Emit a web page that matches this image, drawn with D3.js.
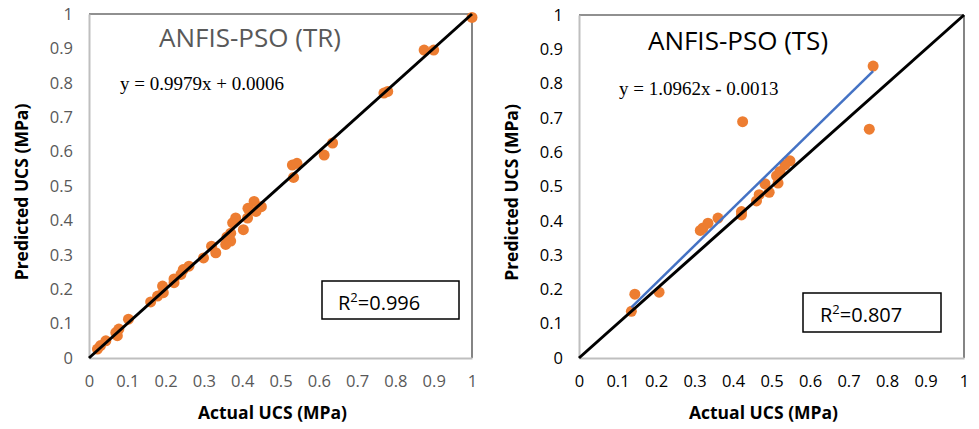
<!DOCTYPE html>
<html lang="en">
<head>
<meta charset="UTF-8">
<title>ANFIS-PSO predicted vs actual UCS</title>
<script src="https://d3js.org/d3.v7.min.js"></script>
<style>
  body { margin: 0; background: #fff; }
  svg { display: block; }
  .tick-label { font-family: "Open Sans", sans-serif; font-size: 16.5px; }
  .axis-title { font-family: "Open Sans", sans-serif; font-size: 17.5px; font-weight: bold; fill: #000; }
  .chart-title { font-family: "Open Sans", sans-serif; font-size: 26px; }
  .equation { font-family: "Liberation Serif", "Times New Roman", serif; font-size: 19px; fill: #000; }
  .r2 { font-family: "Open Sans", sans-serif; font-size: 20px; fill: #000; }
</style>
</head>
<body>
<svg width="979" height="429"></svg>
<script>
// tick values shared by both axes of both panels
const ticks = [0, 0.1, 0.2, 0.3, 0.4, 0.5, 0.6, 0.7, 0.8, 0.9, 1];

// training set: [actual, predicted]
const trainActual = [1.0, 0.875, 0.9, 0.77, 0.78, 0.636, 0.614, 0.531, 0.543, 0.534,
  0.431, 0.415, 0.45, 0.436, 0.414, 0.383, 0.375, 0.403, 0.37, 0.36, 0.37, 0.357,
  0.32, 0.331, 0.299, 0.261, 0.246, 0.24, 0.222, 0.222, 0.192, 0.194, 0.179,
  0.161, 0.103, 0.078, 0.07, 0.074, 0.044, 0.03, 0.022];
const trainPredicted = [0.99, 0.895, 0.895, 0.77, 0.775, 0.625, 0.59, 0.561, 0.566, 0.525,
  0.455, 0.435, 0.44, 0.426, 0.407, 0.407, 0.393, 0.373, 0.363, 0.352, 0.34, 0.33,
  0.325, 0.306, 0.291, 0.267, 0.257, 0.243, 0.23, 0.219, 0.209, 0.19, 0.18,
  0.163, 0.113, 0.084, 0.074, 0.065, 0.05, 0.036, 0.026];

// testing set
const testActual = [0.764, 0.754, 0.425, 0.548, 0.535, 0.522, 0.513, 0.517, 0.483, 0.494,
  0.468, 0.461, 0.422, 0.422, 0.361, 0.335, 0.322, 0.315, 0.208, 0.145, 0.136];
const testPredicted = [0.851, 0.667, 0.689, 0.575, 0.563, 0.544, 0.531, 0.51, 0.508, 0.483,
  0.476, 0.458, 0.427, 0.417, 0.408, 0.393, 0.379, 0.372, 0.192, 0.186, 0.136];

const panels = [
  {
    title: "ANFIS-PSO (TR)", equation: "y = 0.9979x + 0.0006", r2: "0.996",
    actual: trainActual, predicted: trainPredicted, fit: null,
    x0: 89, x1: 472, y0: 358, y1: 14, labelColor: "#595959",
    titleX: 250, titleY: 47, eqX: 120, eqY: 90,
    box: [322, 281, 137, 38], r2X: 338, r2Y: 310
  },
  {
    title: "ANFIS-PSO (TS)", equation: "y = 1.0962x - 0.0013", r2: "0.807",
    actual: testActual, predicted: testPredicted, fit: [1.0962, -0.0013],
    x0: 579, x1: 964, y0: 358, y1: 15, labelColor: "#000",
    titleX: 738, titleY: 50, eqX: 619, eqY: 95,
    box: [803, 293, 138, 39], r2X: 820, r2Y: 322
  }
];

const svg = d3.select("svg");

panels.forEach(p => {
  const x = d3.scaleLinear().domain([0, 1]).range([p.x0, p.x1]);
  const y = d3.scaleLinear().domain([0, 1]).range([p.y0, p.y1]);
  const g = svg.append("g");

  // plot frame: top and right dark, axis lines grey
  g.append("line").attr("x1", x(0)).attr("x2", x(1)).attr("y1", y(1)).attr("y2", y(1))
    .attr("stroke", "#222").attr("stroke-width", 1.2);
  g.append("line").attr("x1", x(1)).attr("x2", x(1)).attr("y1", y(0)).attr("y2", y(1))
    .attr("stroke", "#333").attr("stroke-width", 1.2);

  const xAxis = g.append("g").attr("transform", `translate(0,${p.y0})`)
    .call(d3.axisBottom(x).tickValues(ticks).tickSize(0).tickPadding(17).tickFormat(d3.format("~g")));
  const yAxis = g.append("g").attr("transform", `translate(${p.x0},0)`)
    .call(d3.axisLeft(y).tickValues(ticks).tickSize(0).tickPadding(16).tickFormat(d3.format("~g")));
  [xAxis, yAxis].forEach(a => {
    a.select(".domain").attr("stroke", "#bfbfbf").attr("stroke-width", 2);
    a.selectAll("text").attr("class", "tick-label").attr("fill", p.labelColor);
  });

  // points
  g.selectAll("circle").data(d3.zip(p.actual, p.predicted)).join("circle")
    .attr("cx", d => x(d[0])).attr("cy", d => y(d[1])).attr("r", 5.5)
    .attr("fill", "#ed7d31");

  // linear trend line (testing set)
  if (p.fit) {
    const [a, b] = p.fit;
    const xs = d3.extent(p.actual);
    g.append("line").attr("x1", x(xs[0])).attr("y1", y(a * xs[0] + b))
      .attr("x2", x(xs[1])).attr("y2", y(a * xs[1] + b))
      .attr("stroke", "#4472c4").attr("stroke-width", 2.5);
  }

  // 1:1 line
  g.append("line").attr("x1", x(0)).attr("y1", y(0)).attr("x2", x(1)).attr("y2", y(1))
    .attr("stroke", "#000").attr("stroke-width", 3);

  g.append("text").attr("class", "chart-title").attr("x", p.titleX).attr("y", p.titleY)
    .attr("text-anchor", "middle").attr("fill", p.labelColor).text(p.title);
  g.append("text").attr("class", "equation").attr("x", p.eqX).attr("y", p.eqY).text(p.equation);

  g.append("rect").attr("x", p.box[0]).attr("y", p.box[1]).attr("width", p.box[2]).attr("height", p.box[3])
    .attr("fill", "#fff").attr("stroke", "#000").attr("stroke-width", 1.5);
  const r2 = g.append("text").attr("class", "r2").attr("x", p.r2X).attr("y", p.r2Y);
  r2.append("tspan").text("R");
  r2.append("tspan").attr("font-size", "13px").attr("dy", -8).text("2");
  r2.append("tspan").attr("dy", 8).text("=" + p.r2);

  g.append("text").attr("class", "axis-title").attr("x", (p.x0 + p.x1) / 2 - 8).attr("y", 419)
    .attr("text-anchor", "middle").text("Actual UCS (MPa)");
  g.append("text").attr("class", "axis-title")
    .attr("transform", `translate(${p.x0 - 61},${(p.y0 + p.y1) / 2 + 6}) rotate(-90)`)
    .attr("text-anchor", "middle").text("Predicted UCS (MPa)");
});
</script>
</body>
</html>
